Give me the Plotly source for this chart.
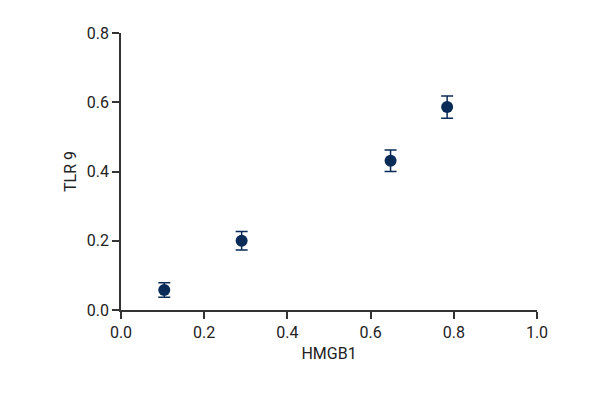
import plotly.graph_objects as go

hmgb1 = [0.104, 0.290, 0.648, 0.784]
tlr9 = [0.058, 0.200, 0.431, 0.586]
tlr9_err = [0.021, 0.027, 0.031, 0.032]

x_ticks = [0.0, 0.2, 0.4, 0.6, 0.8, 1.0]
y_ticks = [0.0, 0.2, 0.4, 0.6, 0.8]

color = "#0a2a57"

fig = go.Figure(go.Scatter(
    x=hmgb1, y=tlr9, mode="markers",
    marker=dict(size=12, color=color),
    error_y=dict(type="data", array=tlr9_err, color=color, thickness=1.5, width=6),
    showlegend=False,
))

font = dict(family="Roboto, sans-serif", size=16, color="#222")
axis_common = dict(showgrid=False, zeroline=False, showline=True, linecolor="#333", linewidth=1.5,
                   ticks="outside", ticklen=7, tickwidth=1.5, tickcolor="#333", tickfont=font)

fig.update_xaxes(range=[0, 1], tickvals=x_ticks, ticktext=[f"{v:.1f}" for v in x_ticks],
                 title=dict(text="HMGB1", font=font, standoff=7), **axis_common)
fig.update_yaxes(range=[0, 0.8], tickvals=y_ticks, ticktext=[f"{v:.1f}" for v in y_ticks],
                 title=dict(text="TLR 9", font=font, standoff=6), **axis_common)

fig.update_layout(width=600, height=400, margin=dict(l=113, r=71, t=25, b=98),
                  plot_bgcolor="white", paper_bgcolor="white", font=font)

fig.write_html("out.html")
